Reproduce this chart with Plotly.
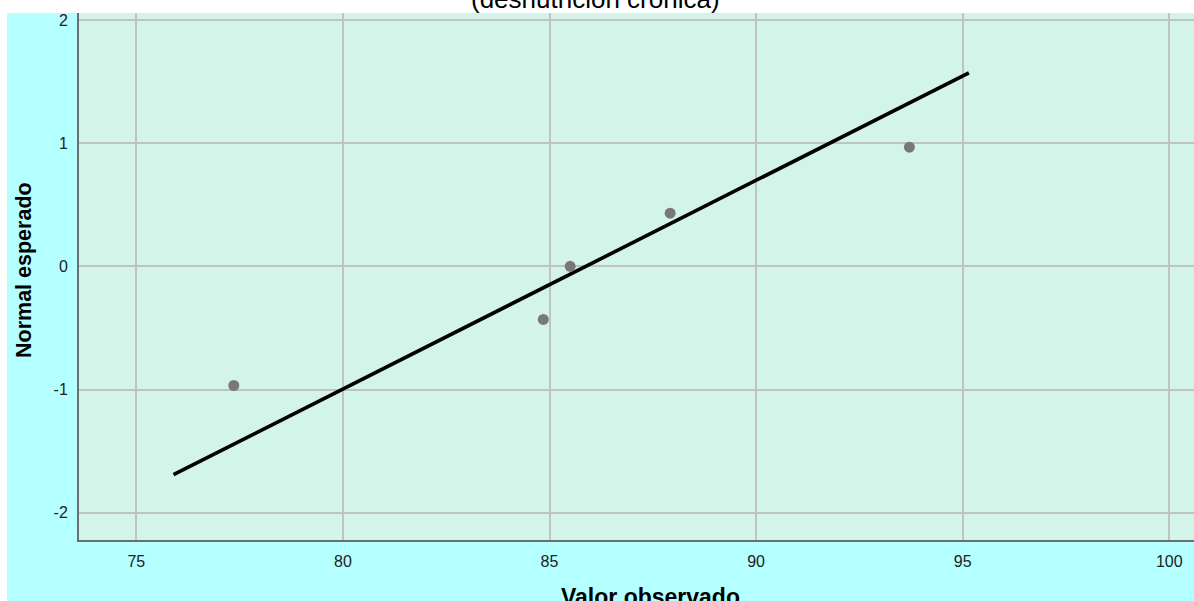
import plotly.graph_objects as go

# Normal Q-Q plot data
observed = [77.36, 84.85, 85.50, 87.92, 93.71]
expected_normal = [-0.967, -0.431, 0.0, 0.431, 0.967]

# Reference line endpoints
line_x = [75.90, 95.15]
line_y = [-1.69, 1.57]

x_ticks = [75, 80, 85, 90, 95, 100]
y_ticks = [-2, -1, 0, 1, 2]

title_text = "(desnutrición crónica)"
x_title = "Valor observado"
y_title = "Normal esperado"

FONT = "Liberation Sans, Arial, sans-serif"
OUTER = "#B4FFFF"
INNER = "#D2F4E9"
GRID = "#BFC4C2"
AXIS = "#6E6E6E"

fig = go.Figure()

fig.add_trace(go.Scatter(
    x=line_x, y=line_y, mode="lines",
    line=dict(color="black", width=3.6),
    hoverinfo="skip", showlegend=False,
))
fig.add_trace(go.Scatter(
    x=observed, y=expected_normal, mode="markers",
    marker=dict(color="#787878", size=11, line=dict(width=0)),
    showlegend=False,
))

W, H = 1194, 601
ML, MT, MR, MB = 79, 13, 0, 61
PW, PH = W - ML - MR, H - MT - MB


def px_x(p):
    return (p - ML) / PW


def px_y(p):
    return (H - MB - p) / PH


fig.update_layout(
    width=W, height=H,
    margin=dict(l=ML, r=MR, t=MT, b=MB, pad=0),
    paper_bgcolor=OUTER,
    plot_bgcolor=INNER,
    font=dict(family=FONT, color="#222222", size=16),
    shapes=[
        # white frame strips on the top and left edges
        dict(type="rect", xref="paper", yref="paper", layer="below",
             x0=px_x(-10), x1=px_x(7), y0=px_y(H + 10), y1=px_y(-10),
             fillcolor="white", line=dict(width=0)),
        dict(type="rect", xref="paper", yref="paper", layer="below",
             x0=px_x(-10), x1=px_x(W + 10), y0=px_y(13), y1=px_y(-10),
             fillcolor="white", line=dict(width=0)),
    ],
    annotations=[
        dict(text=title_text, xref="paper", yref="paper",
             x=px_x(595), y=px_y(16), xanchor="center", yanchor="bottom",
             showarrow=False, font=dict(family=FONT, size=26, color="black")),
        dict(text="<b>" + x_title + "</b>", xref="paper", yref="paper",
             x=px_x(650), y=px_y(582), xanchor="center", yanchor="top",
             showarrow=False, font=dict(family=FONT, size=23, color="black")),
        dict(text="<b>" + y_title + "</b>", xref="paper", yref="paper",
             x=px_x(24), y=px_y(270), xanchor="center", yanchor="middle",
             textangle=-90, showarrow=False,
             font=dict(family=FONT, size=21.5, color="black")),
    ],
)

fig.update_xaxes(
    range=[73.613, 100.598], tickvals=x_ticks, ticktext=[str(v) for v in x_ticks],
    showgrid=True, gridcolor=GRID, gridwidth=2,
    showline=True, linecolor=AXIS, linewidth=2,
    ticks="outside", ticklen=6, tickcolor="rgba(0,0,0,0)",
    zeroline=False, fixedrange=True,
)
fig.update_yaxes(
    range=[-2.221, 2.056], tickvals=y_ticks, ticktext=[str(v) for v in y_ticks],
    showgrid=True, gridcolor=GRID, gridwidth=2,
    showline=True, linecolor=AXIS, linewidth=2,
    ticks="outside", ticklen=6, tickcolor="rgba(0,0,0,0)",
    zeroline=False, fixedrange=True,
)

fig.write_html("out.html", config={"displayModeBar": False})
